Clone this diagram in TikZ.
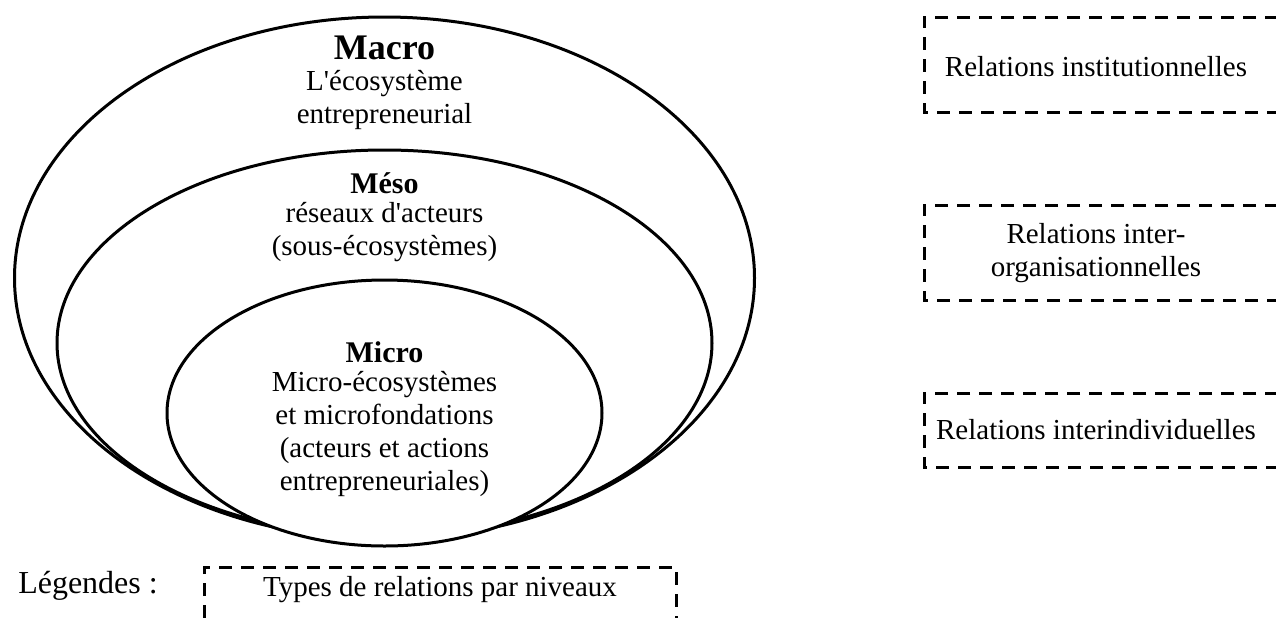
\documentclass[tikz,border=0pt]{standalone}
\usepackage{fontspec}
\setmainfont{Liberation Serif}
\usepackage{tikz}
\tikzset{every picture/.style={line width=1.5pt}}
\tikzset{
  niveau/.style={font=\fontsize{14.5}{16.5}\selectfont, align=center, inner sep=0pt},
  titre/.style={font=\fontsize{15}{17}\selectfont\bfseries, inner sep=0pt},
  relbord/.style={line width=1.5pt, dash pattern=on 6.5pt off 4.5pt}
}

\begin{document}
\begin{tikzpicture}[x=0.5pt,y=0.5pt,yscale=-1,xscale=1]
		\useasboundingbox (0,0) rectangle (1276,617);
		\clip (0,0) rectangle (1276,617);
		
		%Shape: Ellipse [macro]
		\draw [fill=white]  (384.5,278) ellipse (370 and 261);
		%Shape: Ellipse [meso]
		\draw [fill=white]  (384.5,343) ellipse (327.5 and 193);
		%Shape: Ellipse [micro]
		\draw [fill=white]  (384.5,413) ellipse (217.5 and 133);
		
		%Shape: Rectangle [relations]
		\draw [relbord]  (1300,17) -- (924,17) -- (924,112) -- (1300,112) ;
		%Shape: Rectangle
		\draw [relbord]  (1300,205) -- (924,205) -- (924,300) -- (1300,300) ;
		%Shape: Rectangle
		\draw [relbord]  (1300,393) -- (924,393) -- (924,467) -- (1300,467) ;
		%Shape: Rectangle [legende]
		\draw [relbord]  (204,640) -- (204,567) -- (676,567) -- (676,640) ;
		
		% Text Node
		\node [titre, font=\fontsize{18}{20}\selectfont\bfseries] (tmacro) at (384.5,48) {Macro};
		% Text Node
		\node [niveau] (macro) at (384.5,100) {L\textquotesingle écosystème\\entrepreneurial};
		% Text Node
		\node [titre] (tmeso) at (384.5,183) {Méso};
		% Text Node
		\node [niveau] (meso) at (384.5,232) {réseaux d\textquotesingle acteurs\\(sous-écosystèmes)};
		% Text Node
		\node [titre] (tmicro) at (384.5,352) {Micro};
		% Text Node
		\node [niveau] (micro) at (384.5,434) {Micro-écosystèmes\\et microfondations\\(acteurs et actions\\entrepreneuriales)};
		
		% Text Node
		\node [niveau] (rinst) at (1096,67) {Relations institutionnelles};
		% Text Node
		\node [niveau] (rorg) at (1096,253) {Relations inter-\\organisationnelles};
		% Text Node
		\node [niveau] (rindiv) at (1096,430) {Relations interindividuelles};
		
		% Text Node
		\node [niveau, font=\fontsize{16}{17}\selectfont] (legende) at (88,586) {Légendes :};
		% Text Node
		\node [niveau] (types) at (440,590) {Types de relations par niveaux};
		
\end{tikzpicture}
\end{document}
